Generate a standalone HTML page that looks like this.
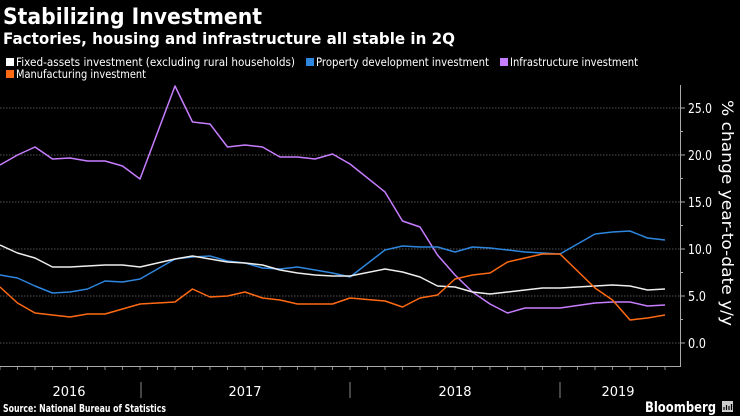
<!DOCTYPE html>
<html><head><meta charset="utf-8"><style>
html,body{margin:0;padding:0;background:#000;width:740px;height:416px;overflow:hidden}
svg{display:block}
text{font-family:"DejaVu Sans","Liberation Sans",sans-serif;fill:#fff}
</style></head><body>
<svg width="740" height="416" viewBox="0 0 740 416">
<rect width="740" height="416" fill="#000"/>
<text x="3" y="24" font-size="22" font-weight="bold" textLength="259" lengthAdjust="spacingAndGlyphs">Stabilizing Investment</text>
<text x="3" y="44" font-size="16" font-weight="bold" textLength="452" lengthAdjust="spacingAndGlyphs">Factories, housing and infrastructure all stable in 2Q</text>
<rect x="6" y="58" width="8" height="8" fill="#fff"/>
<text x="16" y="66" font-size="11.5" fill="#ddd" textLength="279" lengthAdjust="spacingAndGlyphs">Fixed-assets investment (excluding rural households)</text>
<rect x="306" y="58" width="8" height="8" fill="#2e86de"/>
<text x="316" y="66" font-size="11.5" textLength="173" lengthAdjust="spacingAndGlyphs">Property development investment</text>
<rect x="500" y="58" width="8" height="8" fill="#c77dff"/>
<text x="510" y="66" font-size="11.5" textLength="128" lengthAdjust="spacingAndGlyphs">Infrastructure investment</text>
<rect x="6" y="70" width="8" height="8" fill="#ff6a13"/>
<text x="16" y="78" font-size="11.5" textLength="130" lengthAdjust="spacingAndGlyphs">Manufacturing investment</text>
<g stroke="#555" stroke-dasharray="1.5,1.5" stroke-width="1">
<line x1="0" y1="108" x2="680" y2="108"/><line x1="0" y1="155" x2="680" y2="155"/>
<line x1="0" y1="202" x2="680" y2="202"/><line x1="0" y1="249" x2="680" y2="249"/>
<line x1="0" y1="296" x2="680" y2="296"/><line x1="0" y1="343" x2="680" y2="343"/>
</g>
<g stroke="#aaa" stroke-width="1">
<line x1="680.5" y1="85" x2="680.5" y2="366"/>
<line x1="0" y1="366.5" x2="681" y2="366.5"/>
<line x1="680" y1="108" x2="685" y2="108"/><line x1="680" y1="155" x2="685" y2="155"/>
<line x1="680" y1="202" x2="685" y2="202"/><line x1="680" y1="249" x2="685" y2="249"/>
<line x1="680" y1="296" x2="685" y2="296"/><line x1="680" y1="343" x2="685" y2="343"/>
<line x1="680" y1="131.5" x2="683" y2="131.5"/><line x1="680" y1="178.5" x2="683" y2="178.5"/>
<line x1="680" y1="225.5" x2="683" y2="225.5"/><line x1="680" y1="272.5" x2="683" y2="272.5"/>
<line x1="680" y1="319.5" x2="683" y2="319.5"/>
</g>
<g stroke="#888" stroke-width="1">
<path d="M0 367v3M17.5 367v3M35 367v3M52.5 367v3M70 367v3M87.5 367v3M105 367v3M122.5 367v3M140 367v3M157.5 367v3M175 367v3M192.5 367v3M210 367v3M227.5 367v3M245 367v3M262.5 367v3M280 367v3M297.5 367v3M315 367v3M332.5 367v3M350 367v3M367.5 367v3M385 367v3M402.5 367v3M420 367v3M437.5 367v3M455 367v3M472.5 367v3M490 367v3M507.5 367v3M525 367v3M542.5 367v3M560 367v3M577.5 367v3M595 367v3M612.5 367v3M630 367v3M647.5 367v3M665 367v3"/>
<line x1="141" y1="382" x2="141" y2="398"/><line x1="350" y1="382" x2="350" y2="398"/><line x1="560" y1="382" x2="560" y2="398"/>
</g>
<g font-size="13" fill="#ddd" text-anchor="middle">
<text x="69" y="396">2016</text><text x="245" y="396">2017</text><text x="455" y="396">2018</text><text x="618" y="396">2019</text>
</g>
<g font-size="13" fill="#ddd">
<text x="688" y="113" textLength="24" lengthAdjust="spacingAndGlyphs">25.0</text><text x="688" y="160" textLength="24" lengthAdjust="spacingAndGlyphs">20.0</text><text x="688" y="207" textLength="24" lengthAdjust="spacingAndGlyphs">15.0</text>
<text x="688" y="254" textLength="24" lengthAdjust="spacingAndGlyphs">10.0</text><text x="688" y="301" textLength="18" lengthAdjust="spacingAndGlyphs">5.0</text><text x="688" y="348" textLength="18" lengthAdjust="spacingAndGlyphs">0.0</text>
</g>
<text transform="translate(722,100) rotate(90)" font-size="16" fill="#ddd" textLength="226" lengthAdjust="spacingAndGlyphs">% change year-to-date y/y</text>
<g fill="none" stroke-width="1.5" stroke-linejoin="round">
<polyline stroke="#c77dff" points="0,165 17.5,155 35,147 52.5,159 70,158 87.5,161 105,161 122.5,166 140,179 175,86 192.5,122 210,124 227.5,147 245,145 262.5,147 280,157 297.5,157 315,159 332.5,154 350,164 385,192 402.5,221 420,227 437.5,255 455,275 472.5,292 490,304 507.5,313 525,308 542.5,308 560,308 595,303 612.5,302 630,302 647.5,306 665,305"/>
<polyline stroke="#2e86de" points="0,275 17.5,278 35,286 52.5,293 70,292 87.5,289 105,281 122.5,282 140,279 175,259 192.5,257 210,256 227.5,261 245,263 262.5,268 280,269 297.5,267 315,270 332.5,273 350,277 385,250 402.5,246 420,247 437.5,247 455,252 472.5,247 490,248 507.5,250 525,252 542.5,253 560,254 595,234 612.5,232 630,231 647.5,238 665,240"/>
<polyline stroke="#eee" points="0,245 17.5,253 35,258 52.5,267 70,267 87.5,266 105,265 122.5,265 140,267 175,259 192.5,256 210,259 227.5,262 245,263 262.5,265 280,270 297.5,273 315,275 332.5,276 350,276 385,269 402.5,272 420,277 437.5,286 455,287 472.5,292 490,294 507.5,292 525,290 542.5,288 560,288 595,286 612.5,285 630,286 647.5,290 665,289"/>
<polyline stroke="#ff6a13" points="0,287 17.5,303 35,313 52.5,315 70,317 87.5,314 105,314 122.5,309 140,304 175,302 192.5,289 210,297 227.5,296 245,292 262.5,298 280,300 297.5,304 315,304 332.5,304 350,298 385,301 402.5,307 420,298 437.5,295 455,279 472.5,275 490,273 507.5,262 525,258 542.5,254 560,254 595,288 612.5,300 630,320 647.5,318 665,315"/>
</g>
<text x="3" y="412" font-size="11" font-weight="bold" textLength="163" lengthAdjust="spacingAndGlyphs">Source: National Bureau of Statistics</text>
<text x="645" y="412" font-size="14" font-weight="bold" textLength="71" lengthAdjust="spacingAndGlyphs">Bloomberg</text>
<rect x="722" y="401" width="11" height="11" fill="#ccc"/>
<path d="M724 410v-3M726.5 410v-5M729 410v-4M731.5 410v-6" stroke="#000" stroke-width="1.2"/>
</svg>
</body></html>
